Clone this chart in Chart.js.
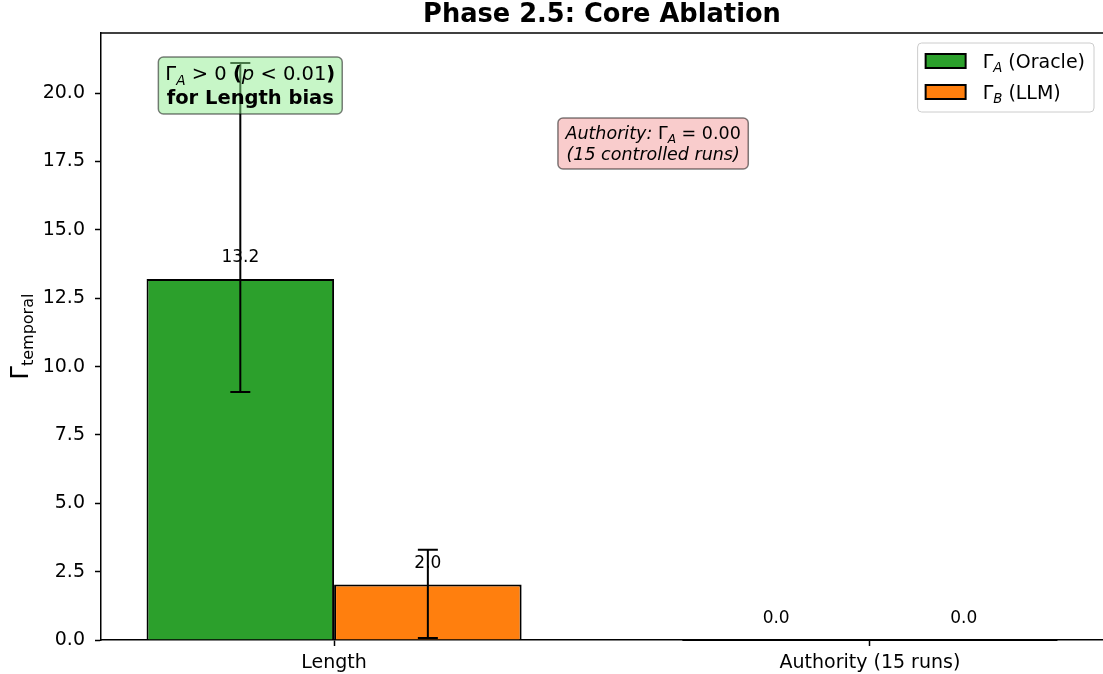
<!DOCTYPE html>
<html lang="en">
<head>
  <meta charset="UTF-8">
  <title>Phase 2.5: Core Ablation</title>
  <script src="https://cdn.jsdelivr.net/npm/chart.js"></script>
  <style>
    html, body { margin: 0; padding: 0; background: #fff; }
    #wrap { width: 1103px; height: 674px; position: relative; }
  </style>
</head>
<body>
  <div id="wrap"><canvas id="chart"></canvas></div>
  <script>
    // Data
    const categories = ['Length', 'Authority (15 runs)'];
    const oracleValues = [13.2, 0.0];
    const llmValues = [2.03, 0.0];
    const oracleErrLow = [9.07, null];
    const oracleErrHigh = [21.1, null];
    const llmErrLow = [0.07, null];
    const llmErrHigh = [3.3, null];
    const yTickValues = [0, 2.5, 5, 7.5, 10, 12.5, 15, 17.5, 20];
    const yMax = 22.2;

    const FONT = '"DejaVu Sans", sans-serif';
    const GREEN = '#2ca02c';
    const ORANGE = '#ff7f0e';

    // --- small rich text helpers (for the Γ subscripts) ---
    function segFont(s) {
      return (s.italic ? 'italic ' : '') + (s.bold ? 'bold ' : '') + s.size + 'px ' + FONT;
    }
    function measureSegs(ctx, segs) {
      let w = 0;
      segs.forEach(s => { ctx.font = segFont(s); w += ctx.measureText(s.text).width; });
      return w;
    }
    function drawSegs(ctx, segs, x, y) {
      segs.forEach(s => {
        ctx.font = segFont(s);
        ctx.fillText(s.text, x, y + (s.dy || 0));
        x += ctx.measureText(s.text).width;
      });
    }
    function gamma(letter, size) {
      return [{ text: 'Γ', size: size }, { text: letter, size: size * 0.7, italic: true, dy: size * 0.22 }];
    }
    function roundRect(ctx, x, y, w, h, r) {
      ctx.beginPath();
      ctx.moveTo(x + r, y);
      ctx.arcTo(x + w, y, x + w, y + h, r);
      ctx.arcTo(x + w, y + h, x, y + h, r);
      ctx.arcTo(x, y + h, x, y, r);
      ctx.arcTo(x, y, x + w, y, r);
      ctx.closePath();
    }
    function drawTextBox(ctx, lines, cx, cy, lineH, padX, padY, fill, stroke) {
      const widths = lines.map(l => measureSegs(ctx, l));
      const w = Math.max(...widths) + 2 * padX;
      const h = lines.length * lineH + 2 * padY;
      roundRect(ctx, cx - w / 2, cy - h / 2, w, h, 5);
      ctx.fillStyle = fill;
      ctx.fill();
      ctx.strokeStyle = stroke;
      ctx.lineWidth = 1.5;
      ctx.stroke();
      ctx.fillStyle = '#000';
      ctx.textBaseline = 'alphabetic';
      ctx.textAlign = 'left';
      const top = cy - (lines.length * lineH) / 2;
      lines.forEach((l, i) => {
        drawSegs(ctx, l, cx - widths[i] / 2, top + i * lineH + lineH * 0.78);
      });
    }

    const errorData = [
      { low: oracleErrLow, high: oracleErrHigh },
      { low: llmErrLow, high: llmErrHigh }
    ];

    const decorPlugin = {
      id: 'decor',
      afterDatasetsDraw(chart) {
        const ctx = chart.ctx;
        const area = chart.chartArea;
        const yScale = chart.scales.y;
        ctx.save();

        // outlines of zero-height bars, value labels, error bars
        chart.data.datasets.forEach((ds, di) => {
          const meta = chart.getDatasetMeta(di);
          meta.data.forEach((bar, j) => {
            const v = ds.data[j].y;
            if (v === 0) {
              ctx.strokeStyle = '#000';
              ctx.lineWidth = 2;
              ctx.beginPath();
              ctx.moveTo(bar.x - bar.width / 2, bar.y);
              ctx.lineTo(bar.x + bar.width / 2, bar.y);
              ctx.stroke();
            }
            ctx.fillStyle = '#000';
            ctx.font = '17px ' + FONT;
            ctx.textAlign = 'center';
            ctx.textBaseline = 'alphabetic';
            ctx.fillText(v.toFixed(1), bar.x, yScale.getPixelForValue(v + 0.62));
          });
        });
        chart.data.datasets.forEach((ds, di) => {
          const meta = chart.getDatasetMeta(di);
          meta.data.forEach((bar, j) => {
            const lo = errorData[di].low[j], hi = errorData[di].high[j];
            if (lo === null || hi === null) return;
            const yl = yScale.getPixelForValue(lo), yh = yScale.getPixelForValue(hi);
            ctx.strokeStyle = '#000';
            ctx.lineWidth = 2;
            ctx.beginPath();
            ctx.moveTo(bar.x, yl); ctx.lineTo(bar.x, yh);
            ctx.moveTo(bar.x - 10, yl); ctx.lineTo(bar.x + 10, yl);
            ctx.moveTo(bar.x - 10, yh); ctx.lineTo(bar.x + 10, yh);
            ctx.stroke();
          });
        });

        // top spine
        ctx.strokeStyle = '#000';
        ctx.lineWidth = 1.5;
        ctx.beginPath();
        ctx.moveTo(area.left, area.top);
        ctx.lineTo(area.right, area.top);
        ctx.stroke();

        const aw = area.right - area.left, ah = area.bottom - area.top;

        // annotation boxes
        drawTextBox(ctx, [
          [...gamma('A', 19.5), { text: ' > 0 ', size: 19.5 }, { text: '(', size: 19.5, bold: true },
            { text: 'p', size: 19.5, italic: true }, { text: ' < 0.01', size: 19.5 }, { text: ')', size: 19.5, bold: true }],
          [{ text: 'for Length bias', size: 19.5, bold: true }]
        ], area.left + 0.149 * aw, area.top + 0.0865 * ah, 23.5, 7, 5,
          'rgba(144,238,144,0.5)', 'rgba(0,0,0,0.5)');

        drawTextBox(ctx, [
          [{ text: 'Authority: ', size: 17.5, italic: true }, ...gamma('A', 17.5), { text: ' = 0.00', size: 17.5 }],
          [{ text: '(15 controlled runs)', size: 17.5, italic: true }]
        ], area.left + 0.551 * aw, area.top + 0.182 * ah, 21, 7.5, 4.5,
          'rgba(240,128,128,0.4)', 'rgba(0,0,0,0.5)');

        // legend
        const entries = [
          { color: GREEN, segs: [...gamma('A', 19), { text: ' (Oracle)', size: 19 }] },
          { color: ORANGE, segs: [...gamma('B', 19), { text: ' (LLM)', size: 19 }] }
        ];
        const textW = Math.max(...entries.map(e => measureSegs(ctx, e.segs)));
        const lw = 65 + textW + 9, lh = 69;
        const lx = area.right - 9 - lw, ly = area.top + 10;
        roundRect(ctx, lx, ly, lw, lh, 4);
        ctx.fillStyle = 'rgba(255,255,255,0.8)';
        ctx.fill();
        ctx.strokeStyle = '#cccccc';
        ctx.lineWidth = 1;
        ctx.stroke();
        entries.forEach((e, i) => {
          const sy = ly + 11 + i * 31;
          ctx.fillStyle = e.color;
          ctx.fillRect(lx + 8, sy, 40, 14);
          ctx.strokeStyle = '#000';
          ctx.lineWidth = 2;
          ctx.strokeRect(lx + 8, sy, 40, 14);
          ctx.fillStyle = '#000';
          ctx.textAlign = 'left';
          ctx.textBaseline = 'alphabetic';
          drawSegs(ctx, e.segs, lx + 65, ly + 25 + i * 31);
        });
        ctx.restore();
      },
      afterDraw(chart) {
        const ctx = chart.ctx;
        const area = chart.chartArea;
        ctx.save();
        // title
        ctx.fillStyle = '#000';
        ctx.font = 'bold 25.7px ' + FONT;
        ctx.textAlign = 'center';
        ctx.textBaseline = 'alphabetic';
        ctx.fillText('Phase 2.5: Core Ablation', (area.left + area.right) / 2, 22);

        // y axis label
        const segs = [{ text: 'Γ', size: 24 }, { text: 'temporal', size: 16, dy: 5 }];
        const w = measureSegs(ctx, segs);
        ctx.translate(28, (area.top + area.bottom) / 2);
        ctx.rotate(-Math.PI / 2);
        ctx.textAlign = 'left';
        drawSegs(ctx, segs, -w / 2, 0);
        ctx.restore();
      }
    };

    const ctx = document.getElementById('chart').getContext('2d');
    new Chart(ctx, {
      type: 'bar',
      data: {
        datasets: [
          {
            label: 'Oracle',
            data: oracleValues.map((v, i) => ({ x: i, y: v })),
            backgroundColor: GREEN,
            borderColor: '#000',
            borderWidth: 2
          },
          {
            label: 'LLM',
            data: llmValues.map((v, i) => ({ x: i, y: v })),
            backgroundColor: ORANGE,
            borderColor: '#000',
            borderWidth: 2
          }
        ]
      },
      options: {
        responsive: true,
        maintainAspectRatio: false,
        animation: false,
        categoryPercentage: 0.7,
        barPercentage: 1.0,
        layout: { padding: { top: 33, left: 0, right: 0, bottom: 0 } },
        plugins: {
          legend: { display: false },
          title: { display: false },
          tooltip: { enabled: false }
        },
        scales: {
          x: {
            type: 'linear',
            min: -0.435,
            max: 1.435,
            offset: false,
            afterBuildTicks: (scale) => { scale.ticks = categories.map((c, i) => ({ value: i })); },
            afterFit: (scale) => { scale.height = 34; },
            ticks: {
              callback: (v) => categories[v],
              color: '#000',
              font: { family: FONT, size: 19 },
              padding: 6,
              maxRotation: 0,
              autoSkip: false
            },
            grid: { drawOnChartArea: false, offset: false, color: '#000', tickLength: 6, tickWidth: 1.5 },
            border: { color: '#000', width: 1.5 }
          },
          y: {
            min: 0,
            max: yMax,
            afterBuildTicks: (scale) => { scale.ticks = yTickValues.map(v => ({ value: v })); },
            afterFit: (scale) => { scale.width = 101; },
            ticks: {
              callback: (v) => v.toFixed(1),
              color: '#000',
              font: { family: FONT, size: 19 },
              padding: 10
            },
            grid: { drawOnChartArea: false, color: '#000', tickLength: 6, tickWidth: 1.5 },
            border: { color: '#000', width: 1.5 }
          }
        }
      },
      plugins: [decorPlugin]
    });
  </script>
</body>
</html>
